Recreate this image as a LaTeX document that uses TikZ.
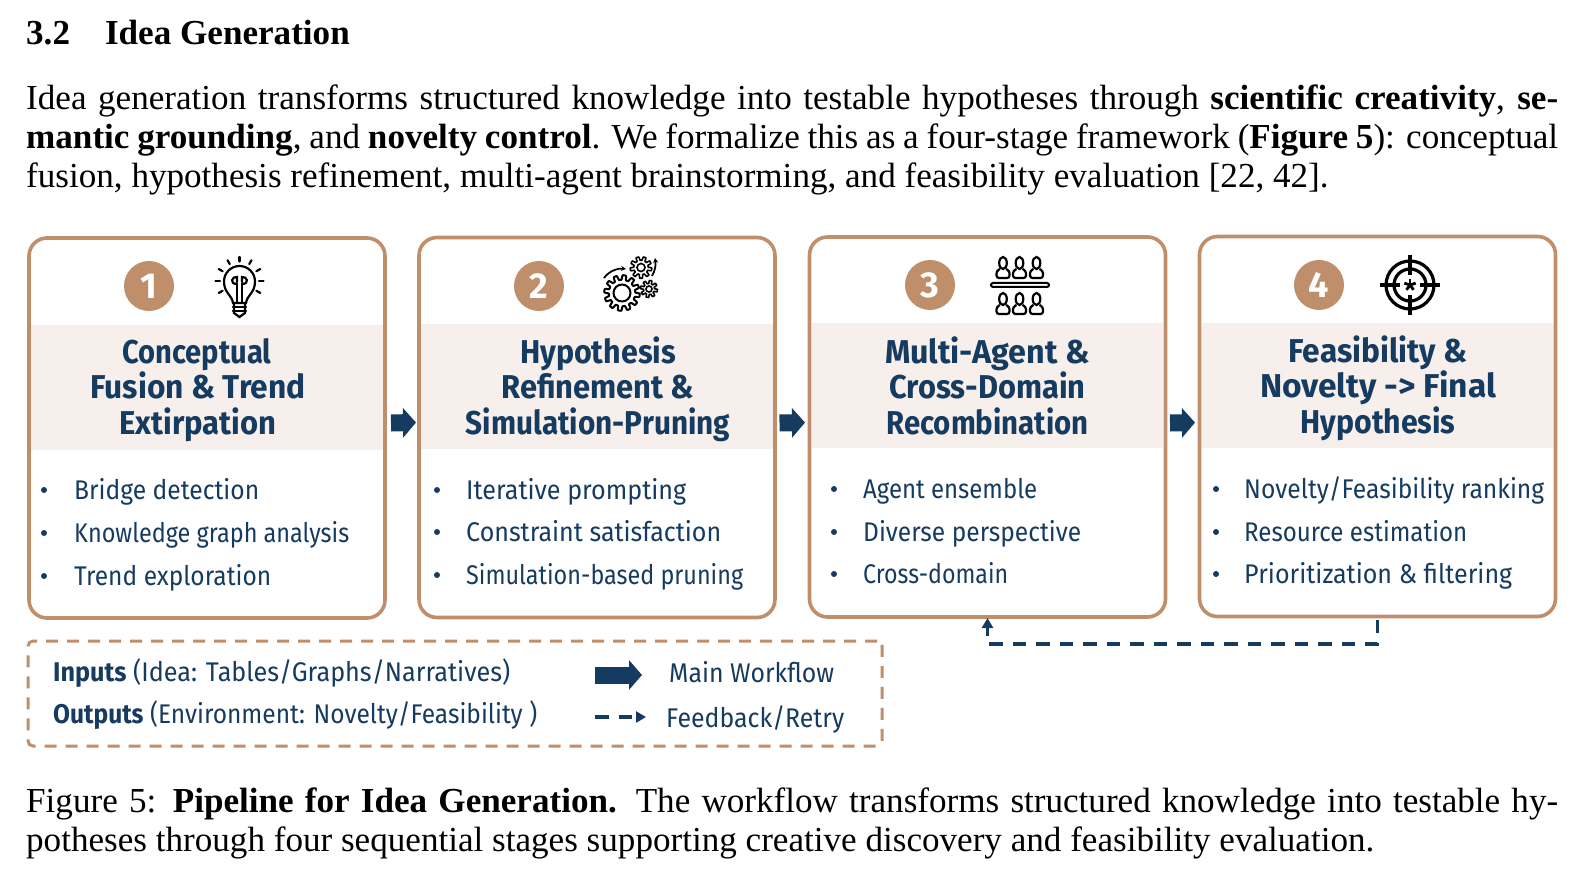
\documentclass[tikz,border=0pt]{standalone}
\usepackage{fontspec}
\setmainfont{Liberation Serif}
\newfontfamily\hand{Fira Sans}
\usetikzlibrary{arrows.meta}
\definecolor{tan}{HTML}{BF8F6B}
\definecolor{band}{HTML}{F6EFEB}
\definecolor{navy}{HTML}{163B60}
\newcommand\fitw[2]{\resizebox{#1pt}{\height}{#2}}
\newcommand\gearat[6]{% cx cy r tooth n lw
  \draw[line width=#6pt,line join=round] plot[domain=0:360,samples=241,variable=\t]
    ({#1+(#3+#4*max(-1,min(1,2.5*sin(#5*\t))))*cos(\t)},{#2+(#3+#4*max(-1,min(1,2.5*sin(#5*\t))))*sin(\t)}) -- cycle;}
\newcommand\personat[3]{% cx cy(head) body-bottom offset
  \draw[line width=2.2pt] (#1,#2) ellipse (3.8pt and 6pt);
  \draw[line width=2.2pt,rounded corners=2.5pt] (#1-3,#2+6) -- (#1-6.5,#2+8) -- (#1-6.5,#2+#3) -- (#1+6.5,#2+#3) -- (#1+6.5,#2+8) -- (#1+3,#2+6);}
\tikzset{
  x=1pt,y=-1pt,
  stagebox/.style={draw=tan,line width=3.6pt,rounded corners=18pt,minimum width=356pt,minimum height=380pt,outer sep=0pt,fill=white,inner sep=0pt},
  bandfill/.style={fill=band,draw=none},
  numdot/.style={circle,fill=tan,minimum size=50pt,inner sep=0pt,text=white,font=\hand\bfseries\fontsize{36}{36}\selectfont},
  stagetitle/.style={anchor=base,inner sep=0pt,text=navy,font=\hand\bfseries\fontsize{33}{33}\selectfont},
  itemtext/.style={anchor=base west,inner sep=0pt,text=navy,font=\hand\fontsize{27}{27}\selectfont},
  bulletdot/.style={circle,fill=navy,minimum size=6pt,inner sep=0pt},
  legendtext/.style={anchor=base west,inner sep=0pt,text=navy,font=\hand\fontsize{27}{27}\selectfont},
  paper/.style={anchor=base west,inner sep=0pt,font=\fontsize{35.1}{39}\selectfont},
  mainarrow/.style={navy,line width=17pt,-{Triangle[length=13pt,width=29pt]}},
  fbarrow/.style={navy,line width=3.3pt,dash pattern=on 13.5pt off 10pt,-{Triangle[length=10pt,width=11pt]}},
  legendbox/.style={draw=tan,line width=3pt,dash pattern=on 12pt off 9pt,rounded corners=5pt,minimum width=854pt,minimum height=105pt,outer sep=0pt,inner sep=0pt},
  icon/.style={line width=2.2pt,black,line cap=round}
}
\begin{document}
\begin{tikzpicture}
\useasboundingbox (0,0) rectangle (1576,874);
\fill[white] (0,0) rectangle (1576,874);
% paper text
\node[paper,font=\bfseries\fontsize{35.1}{39}\selectfont] (head) at (26,45) {3.2\hspace{35pt}Idea Generation};
\node[paper] (p1) at (26,110) {\hbox to 1532pt{Idea generation transforms structured knowledge into testable hypotheses through \textbf{scientific creativity}, \textbf{se-}}};
\node[paper] (p2) at (26,149) {\hbox to 1532pt{\textbf{mantic grounding}, and \textbf{novelty control}. We formalize this as a four-stage framework (\textbf{Figure 5}): conceptual}};
\node[paper] (p3) at (26,188) {fusion, hypothesis refinement, multi-agent brainstorming, and feasibility evaluation [22, 42].};
\node[paper] (c1) at (26,812) {\hbox to 1532pt{Figure 5: \textbf{Pipeline for Idea Generation.} The workflow transforms structured knowledge into testable hy-}};
\node[paper] (c2) at (26,851) {potheses through four sequential stages supporting creative discovery and feasibility evaluation.};
% boxes
\node[stagebox] (b1) at (207,428) {};
\node[stagebox] (b2) at (597,427.5) {};
\node[stagebox] (b3) at (987.5,427) {};
\node[stagebox] (b4) at (1377.5,426.5) {};
\fill[bandfill] (31,325) rectangle (383,450);
\fill[bandfill] (421,324) rectangle (773,449);
\fill[bandfill] (812,323) rectangle (1163,448);
\fill[bandfill] (1202,323) rectangle (1553,448);
% numbers
\node[numdot] (n1) at (149,286) {1};
\node[numdot] (n2) at (539,286) {2};
\node[numdot] (n3) at (930,285) {3};
\node[numdot] (n4) at (1319,285) {4};
% bulb
\begin{scope}[icon]
\draw (233,303) .. controls (232,295) and (224,293) .. (224,281.5) arc (180:360:15.5) .. controls (255,293) and (247,295) .. (246,303) -- cycle;
\foreach \a in {180,210,240,270,300,330,360,30,150} {
  \draw ({239.5+19.5*cos(\a)},{281+19.5*sin(\a)}) -- ({239.5+24*cos(\a)},{281+24*sin(\a)});}
\draw (237,303) -- (237,284) (242,303) -- (242,284);
\draw (237,284) .. controls (229,284) and (232,276) .. (237,277) -- (237,282);
\draw (242,284) .. controls (250,284) and (247,276) .. (242,277) -- (242,282);
\draw (233,307) -- (246,307) (233,311) -- (246,311);
\draw (234,303) -- (234,313) -- (239.5,317) -- (245,313) -- (245,303);
\end{scope}
% gears
\gearat{622}{293}{15.5}{2.3}{12}{2}
\draw[line width=2pt] (622,293) circle (8.5pt);
\gearat{641}{267.5}{9}{1.8}{9}{1.6}
\draw[line width=1.6pt] (641,267.5) circle (4pt);
\gearat{649}{289}{7}{1.5}{8}{1.6}
\draw[line width=1.6pt] (649,289) circle (3pt);
\draw[line width=1.8pt,-{Stealth[length=5pt,width=5pt]}] (604,278) .. controls (609,271) and (618,268) .. (626,269);
\draw[line width=1.8pt,-{Stealth[length=5pt,width=5pt]}] (652,276) .. controls (655,271) and (656,265) .. (655,258);
% people
\personat{1003}{263}{15}
\personat{1019.5}{263}{15}
\personat{1036.5}{263}{15}
\draw[line width=2pt,fill=white,rounded corners=2pt] (991,283) rectangle (1049,287);
\personat{1003}{299}{15}
\personat{1019.5}{299}{15}
\personat{1036.5}{299}{15}
% target
\begin{scope}[line width=3.2pt,black]
\draw (1410,285) circle (24pt) circle (16pt);
\draw (1410,255) -- (1410,275) (1410,295) -- (1410,315) (1380,285) -- (1400,285) (1420,285) -- (1440,285);
\foreach \a in {90,162,234,306,18} {\draw[line width=2.8pt] (1410,285) -- ++({6*cos(\a)},{-6*sin(\a)});}
\end{scope}
% titles
\node[stagetitle] (t11) at (197,363) {\fitw{149}{Conceptual}};
\node[stagetitle] (t12) at (198,398) {\fitw{215}{Fusion \& Trend}};
\node[stagetitle] (t13) at (198,434) {\fitw{157}{Extirpation}};
\node[stagetitle] (t21) at (598,363) {\fitw{156}{Hypothesis}};
\node[stagetitle] (t22) at (598,398) {\fitw{193}{Refinement \&}};
\node[stagetitle] (t23) at (598,434) {\fitw{264}{Simulation-Pruning}};
\node[stagetitle] (t31) at (987.5,363) {\fitw{205}{Multi-Agent \&}};
\node[stagetitle] (t32) at (987.5,398) {\fitw{196}{Cross-Domain}};
\node[stagetitle] (t33) at (987.5,434) {\fitw{202}{Recombination}};
\node[stagetitle] (t41) at (1378,362) {\fitw{179}{Feasibility \&}};
\node[stagetitle] (t42) at (1378,397) {\fitw{236}{Novelty -> Final}};
\node[stagetitle] (t43) at (1378,433) {\fitw{155}{Hypothesis}};
% items
\node[bulletdot] (d11) at (44,490) {};
\node[bulletdot] (d12) at (44,533) {};
\node[bulletdot] (d13) at (44,576) {};
\node[itemtext] (i11) at (74,499) {\fitw{185}{Bridge detection}};
\node[itemtext] (i12) at (74,542) {\fitw{275}{Knowledge graph analysis}};
\node[itemtext] (i13) at (74,585) {\fitw{197}{Trend exploration}};
\node[bulletdot] (d21) at (437,490) {};
\node[bulletdot] (d22) at (437,532) {};
\node[bulletdot] (d23) at (437,575) {};
\node[itemtext] (i21) at (466,499) {\fitw{220}{Iterative prompting}};
\node[itemtext] (i22) at (466,541) {\fitw{255}{Constraint satisfaction}};
\node[itemtext] (i23) at (466,584) {\fitw{277}{Simulation-based pruning}};
\node[bulletdot] (d31) at (834,489) {};
\node[bulletdot] (d32) at (834,532) {};
\node[bulletdot] (d33) at (834,574) {};
\node[itemtext] (i31) at (863,498) {\fitw{174}{Agent ensemble}};
\node[itemtext] (i32) at (863,541) {\fitw{218}{Diverse perspective}};
\node[itemtext] (i33) at (863,583) {\fitw{145}{Cross-domain}};
\node[bulletdot] (d41) at (1216,489) {};
\node[bulletdot] (d42) at (1216,532) {};
\node[bulletdot] (d43) at (1216,574) {};
\node[itemtext] (i41) at (1244,498) {\fitw{300}{Novelty/Feasibility ranking}};
\node[itemtext] (i42) at (1244,541) {\fitw{223}{Resource estimation}};
\node[itemtext] (i43) at (1244,583) {\fitw{268}{Prioritization \& filtering}};
% main arrows
\draw[mainarrow,shorten <=6pt,shorten >=3pt] ([yshift=5pt]b1.east) -- ([yshift=5pt]b2.west);
\draw[mainarrow,shorten <=4.5pt,shorten >=4.5pt] ([yshift=4.5pt]b2.east) -- ([yshift=4.5pt]b3.west);
\draw[mainarrow,shorten <=4.5pt,shorten >=4.5pt] ([yshift=4pt]b3.east) -- ([yshift=4pt]b4.west);
% feedback
\coordinate (fbmid) at (1377.5,644);
\draw[fbarrow,shorten <=3pt,shorten >=1pt] (b4.south) -- (fbmid) -| (b3.south);
% legend
\node[legendbox] (leg) at (455,693.5) {};
\node[legendtext] (l1) at (53,681) {\fitw{457}{\textbf{Inputs} (Idea: Tables/Graphs/Narratives)}};
\node[legendtext] (l2) at (53,723) {\fitw{484}{\textbf{Outputs} (Environment: Novelty/Feasibility )}};
\node[legendtext] (l3) at (669,682) {\fitw{165}{Main Workflow}};
\node[legendtext] (l4) at (666,727) {\fitw{178}{Feedback/Retry}};
\coordinate (la1) at (595,675);
\coordinate (la2) at (642,675);
\draw[mainarrow] (la1) -- (la2);
\coordinate (lb1) at (595,717);
\coordinate (lb2) at (646,717);
\draw[fbarrow] (lb1) -- (lb2);
\end{tikzpicture}
\end{document}
